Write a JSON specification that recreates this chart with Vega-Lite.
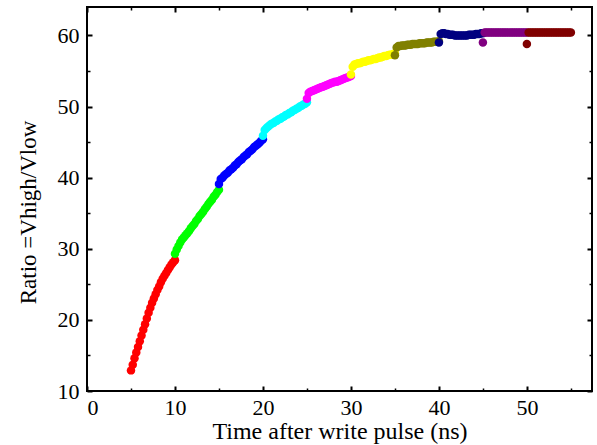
{
  "$schema": "https://vega.github.io/schema/vega-lite/v6.json",
  "autosize": "none",
  "width": 505,
  "height": 384,
  "padding": {"left": 87, "top": 7, "right": 5, "bottom": 54},
  "background": "white",
  "config": {"view": {"stroke": "black", "strokeWidth": 2, "fill": null}, "font": "Liberation Serif",
    "axis": {"domain": false, "ticks": false, "tickSize": 0, "gridColor": "black", "gridOpacity": 1, "zindex": 1,
      "labelFont": "Liberation Serif", "labelColor": "black", "titleFont": "Liberation Serif", "titleColor": "black", "titleFontWeight": "normal"}},
  "data": {"values": [
    {"t":5.0,"r":12.9,"s":"a"},{"t":5.2,"r":13.7,"s":"a"},{"t":5.4,"r":14.6,"s":"a"},{"t":5.6,"r":15.4,"s":"a"},{"t":5.8,"r":16.2,"s":"a"},{"t":6.0,"r":17.0,"s":"a"},{"t":6.2,"r":17.8,"s":"a"},{"t":6.4,"r":18.6,"s":"a"},{"t":6.6,"r":19.4,"s":"a"},{"t":6.8,"r":20.2,"s":"a"},{"t":7.0,"r":21.0,"s":"a"},{"t":7.2,"r":21.7,"s":"a"},{"t":7.4,"r":22.4,"s":"a"},{"t":7.6,"r":23.0,"s":"a"},{"t":7.8,"r":23.6,"s":"a"},{"t":8.0,"r":24.2,"s":"a"},{"t":8.2,"r":24.7,"s":"a"},{"t":8.4,"r":25.3,"s":"a"},{"t":8.6,"r":25.8,"s":"a"},{"t":8.8,"r":26.2,"s":"a"},{"t":9.0,"r":26.6,"s":"a"},{"t":9.2,"r":27.0,"s":"a"},{"t":9.4,"r":27.4,"s":"a"},{"t":9.6,"r":27.8,"s":"a"},{"t":9.8,"r":28.1,"s":"a"},{"t":10.0,"r":28.4,"s":"a"},
    {"t":10.0,"r":29.3,"s":"b"},{"t":10.2,"r":29.9,"s":"b"},{"t":10.4,"r":30.4,"s":"b"},{"t":10.6,"r":30.9,"s":"b"},{"t":10.8,"r":31.3,"s":"b"},{"t":11.0,"r":31.6,"s":"b"},{"t":11.2,"r":31.9,"s":"b"},{"t":11.4,"r":32.2,"s":"b"},{"t":11.6,"r":32.5,"s":"b"},{"t":11.8,"r":32.9,"s":"b"},{"t":12.0,"r":33.2,"s":"b"},{"t":12.2,"r":33.5,"s":"b"},{"t":12.4,"r":33.9,"s":"b"},{"t":12.6,"r":34.2,"s":"b"},{"t":12.8,"r":34.6,"s":"b"},{"t":13.0,"r":34.9,"s":"b"},{"t":13.2,"r":35.2,"s":"b"},{"t":13.4,"r":35.6,"s":"b"},{"t":13.6,"r":35.9,"s":"b"},{"t":13.8,"r":36.3,"s":"b"},{"t":14.0,"r":36.6,"s":"b"},{"t":14.2,"r":36.9,"s":"b"},{"t":14.4,"r":37.3,"s":"b"},{"t":14.6,"r":37.6,"s":"b"},{"t":14.8,"r":38.0,"s":"b"},{"t":15.0,"r":38.3,"s":"b"},
    {"t":15.0,"r":39.1,"s":"c"},{"t":15.2,"r":39.8,"s":"c"},{"t":15.4,"r":40.0,"s":"c"},{"t":15.6,"r":40.3,"s":"c"},{"t":15.8,"r":40.5,"s":"c"},{"t":16.0,"r":40.7,"s":"c"},{"t":16.2,"r":41.0,"s":"c"},{"t":16.4,"r":41.2,"s":"c"},{"t":16.6,"r":41.4,"s":"c"},{"t":16.8,"r":41.7,"s":"c"},{"t":17.0,"r":41.9,"s":"c"},{"t":17.2,"r":42.2,"s":"c"},{"t":17.4,"r":42.4,"s":"c"},{"t":17.6,"r":42.6,"s":"c"},{"t":17.8,"r":42.9,"s":"c"},{"t":18.0,"r":43.1,"s":"c"},{"t":18.2,"r":43.3,"s":"c"},{"t":18.4,"r":43.6,"s":"c"},{"t":18.6,"r":43.8,"s":"c"},{"t":18.8,"r":44.0,"s":"c"},{"t":19.0,"r":44.3,"s":"c"},{"t":19.2,"r":44.5,"s":"c"},{"t":19.4,"r":44.7,"s":"c"},{"t":19.6,"r":44.9,"s":"c"},{"t":19.8,"r":45.2,"s":"c"},{"t":20.0,"r":45.4,"s":"c"},
    {"t":20.0,"r":45.9,"s":"d"},{"t":20.2,"r":46.7,"s":"d"},{"t":20.4,"r":47.0,"s":"d"},{"t":20.6,"r":47.2,"s":"d"},{"t":20.8,"r":47.4,"s":"d"},{"t":21.0,"r":47.6,"s":"d"},{"t":21.2,"r":47.7,"s":"d"},{"t":21.4,"r":47.9,"s":"d"},{"t":21.6,"r":48.0,"s":"d"},{"t":21.8,"r":48.2,"s":"d"},{"t":22.0,"r":48.3,"s":"d"},{"t":22.2,"r":48.5,"s":"d"},{"t":22.4,"r":48.6,"s":"d"},{"t":22.6,"r":48.8,"s":"d"},{"t":22.8,"r":48.9,"s":"d"},{"t":23.0,"r":49.1,"s":"d"},{"t":23.2,"r":49.2,"s":"d"},{"t":23.4,"r":49.4,"s":"d"},{"t":23.6,"r":49.5,"s":"d"},{"t":23.8,"r":49.7,"s":"d"},{"t":24.0,"r":49.8,"s":"d"},{"t":24.2,"r":50.0,"s":"d"},{"t":24.4,"r":50.1,"s":"d"},{"t":24.6,"r":50.3,"s":"d"},{"t":24.8,"r":50.4,"s":"d"},{"t":25.0,"r":50.6,"s":"d"},
    {"t":25.0,"r":51.1,"s":"e"},{"t":25.2,"r":51.9,"s":"e"},{"t":25.4,"r":52.1,"s":"e"},{"t":25.6,"r":52.2,"s":"e"},{"t":25.8,"r":52.3,"s":"e"},{"t":26.0,"r":52.4,"s":"e"},{"t":26.2,"r":52.5,"s":"e"},{"t":26.4,"r":52.6,"s":"e"},{"t":26.6,"r":52.7,"s":"e"},{"t":26.8,"r":52.8,"s":"e"},{"t":27.0,"r":52.9,"s":"e"},{"t":27.2,"r":53.0,"s":"e"},{"t":27.4,"r":53.1,"s":"e"},{"t":27.6,"r":53.2,"s":"e"},{"t":27.8,"r":53.3,"s":"e"},{"t":28.0,"r":53.4,"s":"e"},{"t":28.2,"r":53.5,"s":"e"},{"t":28.4,"r":53.5,"s":"e"},{"t":28.6,"r":53.6,"s":"e"},{"t":28.8,"r":53.7,"s":"e"},{"t":29.0,"r":53.8,"s":"e"},{"t":29.2,"r":53.9,"s":"e"},{"t":29.4,"r":54.0,"s":"e"},{"t":29.6,"r":54.1,"s":"e"},{"t":29.8,"r":54.2,"s":"e"},{"t":30.0,"r":54.3,"s":"e"},
    {"t":30.0,"r":54.5,"s":"f"},{"t":30.2,"r":55.6,"s":"f"},{"t":30.4,"r":55.9,"s":"f"},{"t":30.6,"r":56.0,"s":"f"},{"t":30.8,"r":56.1,"s":"f"},{"t":31.0,"r":56.1,"s":"f"},{"t":31.2,"r":56.2,"s":"f"},{"t":31.4,"r":56.3,"s":"f"},{"t":31.6,"r":56.3,"s":"f"},{"t":31.8,"r":56.4,"s":"f"},{"t":32.0,"r":56.5,"s":"f"},{"t":32.2,"r":56.5,"s":"f"},{"t":32.4,"r":56.6,"s":"f"},{"t":32.6,"r":56.7,"s":"f"},{"t":32.8,"r":56.7,"s":"f"},{"t":33.0,"r":56.8,"s":"f"},{"t":33.2,"r":56.9,"s":"f"},{"t":33.4,"r":56.9,"s":"f"},{"t":33.6,"r":57.0,"s":"f"},{"t":33.8,"r":57.1,"s":"f"},{"t":34.0,"r":57.1,"s":"f"},{"t":34.2,"r":57.2,"s":"f"},{"t":34.4,"r":57.3,"s":"f"},{"t":34.6,"r":57.3,"s":"f"},{"t":34.8,"r":57.4,"s":"f"},{"t":35.0,"r":57.5,"s":"f"},
    {"t":35.0,"r":57.2,"s":"g"},{"t":35.2,"r":58.3,"s":"g"},{"t":35.4,"r":58.5,"s":"g"},{"t":35.6,"r":58.5,"s":"g"},{"t":35.8,"r":58.6,"s":"g"},{"t":36.0,"r":58.6,"s":"g"},{"t":36.2,"r":58.6,"s":"g"},{"t":36.4,"r":58.7,"s":"g"},{"t":36.6,"r":58.7,"s":"g"},{"t":36.8,"r":58.7,"s":"g"},{"t":37.0,"r":58.8,"s":"g"},{"t":37.2,"r":58.8,"s":"g"},{"t":37.4,"r":58.8,"s":"g"},{"t":37.6,"r":58.8,"s":"g"},{"t":37.8,"r":58.9,"s":"g"},{"t":38.0,"r":58.9,"s":"g"},{"t":38.2,"r":58.9,"s":"g"},{"t":38.4,"r":58.9,"s":"g"},{"t":38.6,"r":59.0,"s":"g"},{"t":38.8,"r":59.0,"s":"g"},{"t":39.0,"r":59.0,"s":"g"},{"t":39.2,"r":59.0,"s":"g"},{"t":39.4,"r":59.1,"s":"g"},{"t":39.6,"r":59.1,"s":"g"},{"t":39.8,"r":59.1,"s":"g"},{"t":40.0,"r":59.2,"s":"g"},
    {"t":40.0,"r":59.0,"s":"h"},{"t":40.2,"r":60.2,"s":"h"},{"t":40.4,"r":60.3,"s":"h"},{"t":40.6,"r":60.3,"s":"h"},{"t":40.8,"r":60.2,"s":"h"},{"t":41.0,"r":60.2,"s":"h"},{"t":41.2,"r":60.1,"s":"h"},{"t":41.4,"r":60.1,"s":"h"},{"t":41.6,"r":60.1,"s":"h"},{"t":41.8,"r":60.0,"s":"h"},{"t":42.0,"r":60.0,"s":"h"},{"t":42.2,"r":60.0,"s":"h"},{"t":42.4,"r":60.0,"s":"h"},{"t":42.6,"r":60.0,"s":"h"},{"t":42.8,"r":60.0,"s":"h"},{"t":43.0,"r":60.0,"s":"h"},{"t":43.2,"r":60.0,"s":"h"},{"t":43.4,"r":60.1,"s":"h"},{"t":43.6,"r":60.1,"s":"h"},{"t":43.8,"r":60.1,"s":"h"},{"t":44.0,"r":60.1,"s":"h"},{"t":44.2,"r":60.2,"s":"h"},{"t":44.4,"r":60.2,"s":"h"},{"t":44.6,"r":60.2,"s":"h"},{"t":44.8,"r":60.3,"s":"h"},{"t":45.0,"r":60.3,"s":"h"},
    {"t":45.0,"r":59.0,"s":"i"},{"t":45.2,"r":60.4,"s":"i"},{"t":45.4,"r":60.4,"s":"i"},{"t":45.6,"r":60.4,"s":"i"},{"t":45.8,"r":60.4,"s":"i"},{"t":46.0,"r":60.4,"s":"i"},{"t":46.2,"r":60.4,"s":"i"},{"t":46.4,"r":60.4,"s":"i"},{"t":46.6,"r":60.4,"s":"i"},{"t":46.8,"r":60.4,"s":"i"},{"t":47.0,"r":60.4,"s":"i"},{"t":47.2,"r":60.4,"s":"i"},{"t":47.4,"r":60.4,"s":"i"},{"t":47.6,"r":60.4,"s":"i"},{"t":47.8,"r":60.4,"s":"i"},{"t":48.0,"r":60.4,"s":"i"},{"t":48.2,"r":60.4,"s":"i"},{"t":48.4,"r":60.4,"s":"i"},{"t":48.6,"r":60.4,"s":"i"},{"t":48.8,"r":60.4,"s":"i"},{"t":49.0,"r":60.4,"s":"i"},{"t":49.2,"r":60.4,"s":"i"},{"t":49.4,"r":60.4,"s":"i"},{"t":49.6,"r":60.4,"s":"i"},{"t":49.8,"r":60.4,"s":"i"},{"t":50.0,"r":60.4,"s":"i"},
    {"t":50.0,"r":58.8,"s":"j"},{"t":50.2,"r":60.4,"s":"j"},{"t":50.4,"r":60.4,"s":"j"},{"t":50.6,"r":60.4,"s":"j"},{"t":50.8,"r":60.4,"s":"j"},{"t":51.0,"r":60.4,"s":"j"},{"t":51.2,"r":60.4,"s":"j"},{"t":51.4,"r":60.4,"s":"j"},{"t":51.6,"r":60.4,"s":"j"},{"t":51.8,"r":60.4,"s":"j"},{"t":52.0,"r":60.4,"s":"j"},{"t":52.2,"r":60.4,"s":"j"},{"t":52.4,"r":60.4,"s":"j"},{"t":52.6,"r":60.4,"s":"j"},{"t":52.8,"r":60.4,"s":"j"},{"t":53.0,"r":60.4,"s":"j"},{"t":53.2,"r":60.4,"s":"j"},{"t":53.4,"r":60.4,"s":"j"},{"t":53.6,"r":60.4,"s":"j"},{"t":53.8,"r":60.4,"s":"j"},{"t":54.0,"r":60.4,"s":"j"},{"t":54.2,"r":60.4,"s":"j"},{"t":54.4,"r":60.4,"s":"j"},{"t":54.6,"r":60.4,"s":"j"},{"t":54.8,"r":60.4,"s":"j"},{"t":55.0,"r":60.4,"s":"j"}
  ]},
  "mark": {"type": "point", "filled": true, "opacity": 1, "size": 72, "shape": "circle"},
  "encoding": {
    "x": {"field": "t", "type": "quantitative",
      "scale": {"domain": [0, 57.4], "nice": false, "zero": false},
      "axis": {"orient": "bottom", "values": [0,5,10,15,20,25,30,35,40,45,50,55],
        "labelExpr": "datum.value % 10 === 0 ? datum.label : ''",
        "grid": true,
        "gridDash": {"condition": {"test": "datum.value % 10 === 0", "value": [5, 374]}, "value": [3, 378]},
        "gridWidth": {"condition": {"test": "datum.value % 10 === 0", "value": 2}, "value": 1.5},
        "labelFontSize": 22, "labelPadding": 6,
        "title": "Time after write pulse (ns)", "titleFontSize": 24, "titlePadding": 1}},
    "y": {"field": "r", "type": "quantitative",
      "scale": {"domain": [10, 64], "nice": false, "zero": false},
      "axis": {"orient": "left", "values": [10,15,20,25,30,35,40,45,50,55,60],
        "labelExpr": "datum.value % 10 === 0 ? datum.label : ''",
        "grid": true,
        "gridDash": {"condition": {"test": "datum.value % 10 === 0", "value": [5, 495]}, "value": [3, 499]},
        "gridWidth": {"condition": {"test": "datum.value % 10 === 0", "value": 2}, "value": 1.5},
        "labelFontSize": 22, "labelPadding": 8,
        "title": "Ratio =Vhigh/Vlow", "titleFontSize": 23, "titlePadding": 17, "titleY": 205}},
    "color": {"field": "s", "type": "nominal", "legend": null,
      "scale": {"domain": ["a","b","c","d","e","f","g","h","i","j"],
        "range": ["#ff0000","#00ff00","#0000ff","#00ffff","#ff00ff","#ffff00","#808000","#000080","#800080","#800000"]}}
  }
}
